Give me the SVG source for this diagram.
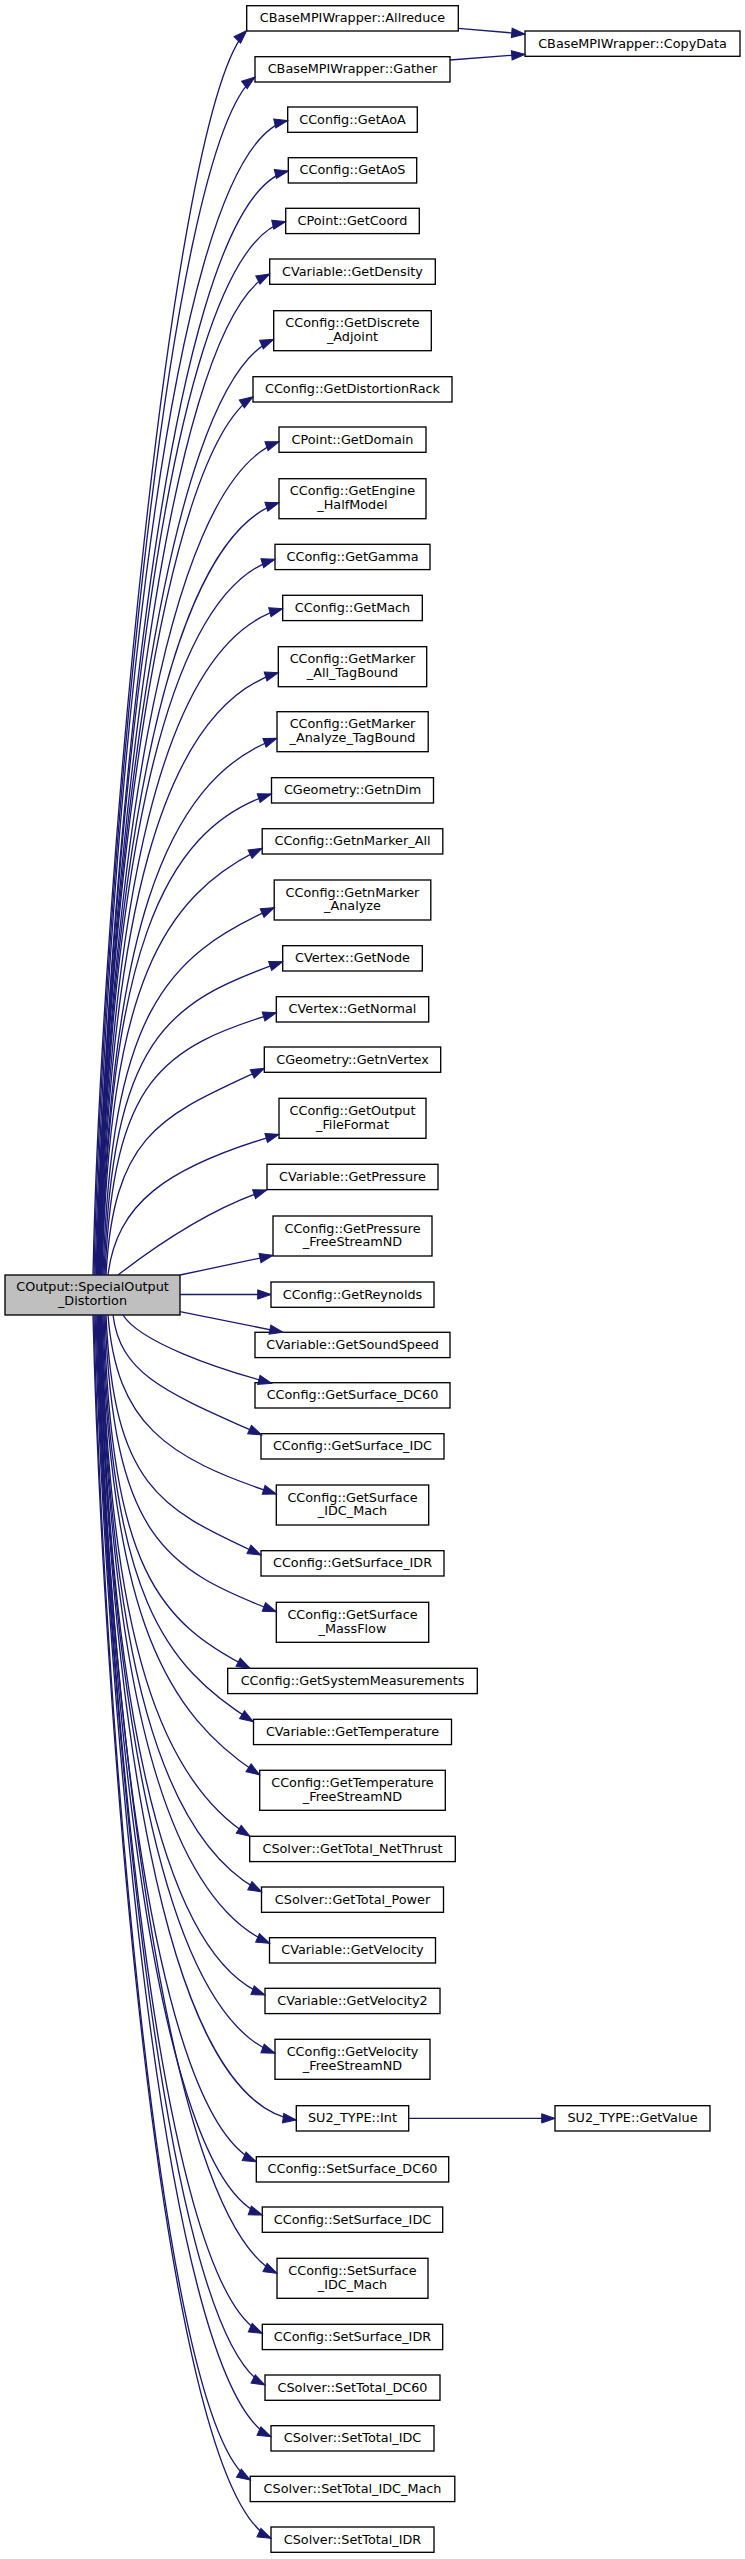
<svg xmlns="http://www.w3.org/2000/svg" width="745" height="2559" viewBox="0 0 745 2559">
<style>
.n rect{fill:#fff;stroke:#000;stroke-width:1.33}
.m rect{fill:#bfbfbf;stroke:#000;stroke-width:1.33}
text{font-family:"DejaVu Sans","Liberation Sans",sans-serif;font-size:12.8px;text-anchor:middle;fill:#000}
.e path{fill:none;stroke:#191970;stroke-width:1.33;marker-end:url(#a)}
</style>
<defs>
<marker id="a" markerWidth="14" markerHeight="10" refX="13.3" refY="4.67" orient="auto" markerUnits="userSpaceOnUse" overflow="visible">
<path d="M0,0 L13.3,4.67 L0,9.33 Z" fill="#191970" stroke="#191970" stroke-width="1"/>
</marker>
</defs>
<rect width="745" height="2559" fill="#fff"/>
<g id="main" class="m"><rect x="5" y="1275" width="175" height="40"/><text x="92.5" y="1291">COutput::SpecialOutput</text><text x="92.5" y="1305">_Distortion</text></g>
<g id="n1" class="n"><rect x="246.7" y="5.7" width="211.6" height="25.3"/><text x="352.5" y="22.3">CBaseMPIWrapper::Allreduce</text></g>
<g id="n2" class="n"><rect x="255" y="56.7" width="195" height="25.3"/><text x="352.5" y="73.3">CBaseMPIWrapper::Gather</text></g>
<g id="n3" class="n"><rect x="287.7" y="107" width="129.6" height="25.3"/><text x="352.5" y="123.6">CConfig::GetAoA</text></g>
<g id="n4" class="n"><rect x="288.3" y="157.7" width="128.4" height="25.3"/><text x="352.5" y="174.3">CConfig::GetAoS</text></g>
<g id="n5" class="n"><rect x="285.7" y="208.3" width="133.6" height="25.3"/><text x="352.5" y="224.9">CPoint::GetCoord</text></g>
<g id="n6" class="n"><rect x="269.7" y="259" width="165.6" height="25.3"/><text x="352.5" y="275.6">CVariable::GetDensity</text></g>
<g id="n7" class="n"><rect x="273.7" y="310.7" width="157.6" height="40"/><text x="352.5" y="327.3">CConfig::GetDiscrete</text><text x="352.5" y="341">_Adjoint</text></g>
<g id="n8" class="n"><rect x="253" y="376.7" width="199" height="25.3"/><text x="352.5" y="393.3">CConfig::GetDistortionRack</text></g>
<g id="n9" class="n"><rect x="279" y="427" width="147" height="25.3"/><text x="352.5" y="443.6">CPoint::GetDomain</text></g>
<g id="n10" class="n"><rect x="279" y="478.7" width="147" height="40"/><text x="352.5" y="495.3">CConfig::GetEngine</text><text x="352.5" y="509">_HalfModel</text></g>
<g id="n11" class="n"><rect x="275" y="544.3" width="155" height="25.3"/><text x="352.5" y="560.9">CConfig::GetGamma</text></g>
<g id="n12" class="n"><rect x="282.7" y="595.3" width="139.6" height="25.3"/><text x="352.5" y="611.9">CConfig::GetMach</text></g>
<g id="n13" class="n"><rect x="278.3" y="646.7" width="148.4" height="40"/><text x="352.5" y="663.3">CConfig::GetMarker</text><text x="352.5" y="677">_All_TagBound</text></g>
<g id="n14" class="n"><rect x="277" y="711.7" width="151.2" height="40"/><text x="352.5" y="728.3">CConfig::GetMarker</text><text x="352.5" y="742">_Analyze_TagBound</text></g>
<g id="n15" class="n"><rect x="271.5" y="777.7" width="162" height="25.3"/><text x="352.5" y="794.3">CGeometry::GetnDim</text></g>
<g id="n16" class="n"><rect x="262.2" y="828.7" width="180.6" height="25.3"/><text x="352.5" y="845.3">CConfig::GetnMarker_All</text></g>
<g id="n17" class="n"><rect x="274.2" y="880" width="156.6" height="40"/><text x="352.5" y="896.6">CConfig::GetnMarker</text><text x="352.5" y="910.3">_Analyze</text></g>
<g id="n18" class="n"><rect x="282.7" y="945.7" width="139.6" height="25.3"/><text x="352.5" y="962.3">CVertex::GetNode</text></g>
<g id="n19" class="n"><rect x="276.3" y="996.7" width="152.4" height="25.3"/><text x="352.5" y="1013.3">CVertex::GetNormal</text></g>
<g id="n20" class="n"><rect x="264.3" y="1047" width="176.4" height="25.3"/><text x="352.5" y="1063.6">CGeometry::GetnVertex</text></g>
<g id="n21" class="n"><rect x="279" y="1098.3" width="147" height="40"/><text x="352.5" y="1114.9">CConfig::GetOutput</text><text x="352.5" y="1128.6">_FileFormat</text></g>
<g id="n22" class="n"><rect x="267" y="1164.3" width="171" height="25.3"/><text x="352.5" y="1180.9">CVariable::GetPressure</text></g>
<g id="n23" class="n"><rect x="273" y="1216" width="159" height="40"/><text x="352.5" y="1232.6">CConfig::GetPressure</text><text x="352.5" y="1246.3">_FreeStreamND</text></g>
<g id="n24" class="n"><rect x="271" y="1282" width="163" height="25.3"/><text x="352.5" y="1298.6">CConfig::GetReynolds</text></g>
<g id="n25" class="n"><rect x="255" y="1332.3" width="195" height="25.3"/><text x="352.5" y="1348.9">CVariable::GetSoundSpeed</text></g>
<g id="n26" class="n"><rect x="255" y="1382.7" width="195" height="25.3"/><text x="352.5" y="1399.3">CConfig::GetSurface_DC60</text></g>
<g id="n27" class="n"><rect x="261" y="1433.7" width="183" height="25.3"/><text x="352.5" y="1450.3">CConfig::GetSurface_IDC</text></g>
<g id="n28" class="n"><rect x="276.3" y="1485" width="152.4" height="40"/><text x="352.5" y="1501.6">CConfig::GetSurface</text><text x="352.5" y="1515.3">_IDC_Mach</text></g>
<g id="n29" class="n"><rect x="261" y="1550.7" width="183" height="25.3"/><text x="352.5" y="1567.3">CConfig::GetSurface_IDR</text></g>
<g id="n30" class="n"><rect x="276.3" y="1602.3" width="152.4" height="40"/><text x="352.5" y="1618.9">CConfig::GetSurface</text><text x="352.5" y="1632.6">_MassFlow</text></g>
<g id="n31" class="n"><rect x="227.7" y="1668.3" width="249.6" height="25.3"/><text x="352.5" y="1684.9">CConfig::GetSystemMeasurements</text></g>
<g id="n32" class="n"><rect x="253.5" y="1719.3" width="198" height="25.3"/><text x="352.5" y="1735.9">CVariable::GetTemperature</text></g>
<g id="n33" class="n"><rect x="259.7" y="1770.3" width="185.6" height="40"/><text x="352.5" y="1786.9">CConfig::GetTemperature</text><text x="352.5" y="1800.6">_FreeStreamND</text></g>
<g id="n34" class="n"><rect x="249.7" y="1836.3" width="205.6" height="25.3"/><text x="352.5" y="1852.9">CSolver::GetTotal_NetThrust</text></g>
<g id="n35" class="n"><rect x="261.5" y="1887" width="182" height="25.3"/><text x="352.5" y="1903.6">CSolver::GetTotal_Power</text></g>
<g id="n36" class="n"><rect x="269.5" y="1937.7" width="166" height="25.3"/><text x="352.5" y="1954.3">CVariable::GetVelocity</text></g>
<g id="n37" class="n"><rect x="265" y="1988.3" width="175" height="25.3"/><text x="352.5" y="2004.9">CVariable::GetVelocity2</text></g>
<g id="n38" class="n"><rect x="275" y="2039.3" width="155" height="40"/><text x="352.5" y="2055.9">CConfig::GetVelocity</text><text x="352.5" y="2069.6">_FreeStreamND</text></g>
<g id="n39" class="n"><rect x="296.3" y="2105.7" width="112.4" height="25.3"/><text x="352.5" y="2122.3">SU2_TYPE::Int</text></g>
<g id="n40" class="n"><rect x="256.3" y="2156.7" width="192.4" height="25.3"/><text x="352.5" y="2173.3">CConfig::SetSurface_DC60</text></g>
<g id="n41" class="n"><rect x="262.3" y="2207" width="180.4" height="25.3"/><text x="352.5" y="2223.6">CConfig::SetSurface_IDC</text></g>
<g id="n42" class="n"><rect x="277" y="2258.3" width="151" height="40"/><text x="352.5" y="2274.9">CConfig::SetSurface</text><text x="352.5" y="2288.6">_IDC_Mach</text></g>
<g id="n43" class="n"><rect x="262.3" y="2324.3" width="180.4" height="25.3"/><text x="352.5" y="2340.9">CConfig::SetSurface_IDR</text></g>
<g id="n44" class="n"><rect x="265" y="2375" width="175" height="25.3"/><text x="352.5" y="2391.6">CSolver::SetTotal_DC60</text></g>
<g id="n45" class="n"><rect x="271" y="2425.7" width="163" height="25.3"/><text x="352.5" y="2442.3">CSolver::SetTotal_IDC</text></g>
<g id="n46" class="n"><rect x="250.2" y="2476.3" width="204.6" height="25.3"/><text x="352.5" y="2492.9">CSolver::SetTotal_IDC_Mach</text></g>
<g id="n47" class="n"><rect x="271" y="2527" width="163" height="25.3"/><text x="352.5" y="2543.6">CSolver::SetTotal_IDR</text></g>
<g id="n48" class="n"><rect x="525" y="31" width="215" height="25.3"/><text x="632.5" y="47.6">CBaseMPIWrapper::CopyData</text></g>
<g id="n49" class="n"><rect x="555" y="2105.7" width="155" height="25.3"/><text x="632.5" y="2122.3">SU2_TYPE::GetValue</text></g>
<g id="edges" class="e">
<path d="M93,1275 C100.7,901.6 170.6,106.6 246.7,30.5"/>
<path d="M94,1275 C102,915.6 165,144.8 255,77"/>
<path d="M95,1275 C104.6,928.6 156.3,150.9 287.7,120.5"/>
<path d="M96,1275 C105.6,943.8 157.2,201.3 288.3,171"/>
<path d="M96.5,1275 C106,931.6 156.7,251.5 285.7,221.7"/>
<path d="M97,1275 C105.6,918.6 162,328.9 269.7,274"/>
<path d="M97.5,1275 C106.3,908.2 160.1,387.5 273.7,339.3"/>
<path d="M98,1275 C105.8,901.7 162,455.8 253,396.7"/>
<path d="M98.5,1275 C107.5,900 160.2,484.9 279,441.7"/>
<path d="M99,1275 C108,901.2 159.2,541.6 279,502.7"/>
<path d="M99.5,1275 C108.3,905.7 157.5,595.2 275,559.3"/>
<path d="M100,1275 C109.1,912.5 159.2,641.8 282.7,608.7"/>
<path d="M100.5,1275 C109.4,925.7 159.3,709.1 278.3,672.7"/>
<path d="M101,1275 C109.8,943.9 161.2,780.4 277,738.3"/>
<path d="M101.5,1275 C110,963.3 158.2,830.7 271.3,794"/>
<path d="M102,1275 C110,985.3 161.3,897.4 262,848.3"/>
<path d="M103,1275 C111.6,1013.5 164.7,956.5 274.3,907.7"/>
<path d="M104,1275 C112.9,1040 164.4,1002.5 282.7,961.7"/>
<path d="M105,1275 C113.6,1078.3 161.7,1047.7 276.3,1012.7"/>
<path d="M106,1275 C113.9,1130.3 163.9,1115.2 264.3,1068.3"/>
<path d="M108,1275 C116.6,1204.6 164,1167.3 279,1134.3"/>
<path d="M118,1275 C140,1258 200,1212 266.7,1190"/>
<path d="M180,1275 L273,1255.3"/>
<path d="M180,1294.5 L271,1294.5"/>
<path d="M180,1311.7 L283,1332.3"/>
<path d="M123,1315 C140,1342 215,1368 271.7,1383.3"/>
<path d="M113,1315 C120.4,1375 166.6,1392.6 261.7,1435"/>
<path d="M108,1315 C116.4,1422.4 164.3,1457.6 276.3,1494"/>
<path d="M106,1315 C113.8,1490.2 162.7,1509.1 261,1555"/>
<path d="M105,1315 C113.6,1537.5 164.3,1568.8 276.3,1611.7"/>
<path d="M104,1315 C111.3,1569.4 158.9,1621.9 250,1668.3"/>
<path d="M103,1315 C110.5,1595.6 164.1,1665.9 253.3,1721.7"/>
<path d="M102,1315 C109.9,1618.6 167.1,1714.8 259.7,1775"/>
<path d="M101.5,1315 C108.9,1641.3 161.8,1781.2 250,1836.3"/>
<path d="M101,1315 C109,1657.6 161.5,1840.6 261.7,1891.7"/>
<path d="M100.5,1315 C109,1670 161.5,1895.1 269.7,1943.3"/>
<path d="M100,1315 C108.3,1679.5 157.1,1953.7 265,1995"/>
<path d="M99.5,1315 C108.3,1686.4 160.2,2009.3 275,2053.3"/>
<path d="M99,1315 C108.9,1690 159.6,2100.8 296.3,2120"/>
<path d="M98.5,1315 C106.4,1689.2 155.3,2116.7 256.3,2161.7"/>
<path d="M98,1315 C106.2,1686.7 154.2,2175.7 262.3,2215"/>
<path d="M97.5,1315 C106.5,1679.2 164,2218.2 277,2273.3"/>
<path d="M97,1315 C105.3,1667.3 157.5,2284.4 262.3,2333.3"/>
<path d="M96,1315 C104.5,1654.2 159.6,2331.3 265,2385"/>
<path d="M95,1315 C103.8,1651.5 159.4,2384.6 271,2436.7"/>
<path d="M94,1315 C101.8,1664.5 156.5,2423.7 250.3,2480"/>
<path d="M93,1315 C101.9,1682 158.1,2485.6 271,2538.3"/>
<path d="M458.3,28.3 L525,34"/>
<path d="M450,60 L525,54.3"/>
<path d="M408.7,2118.4 L555,2118.4"/>
</g>
</svg>
